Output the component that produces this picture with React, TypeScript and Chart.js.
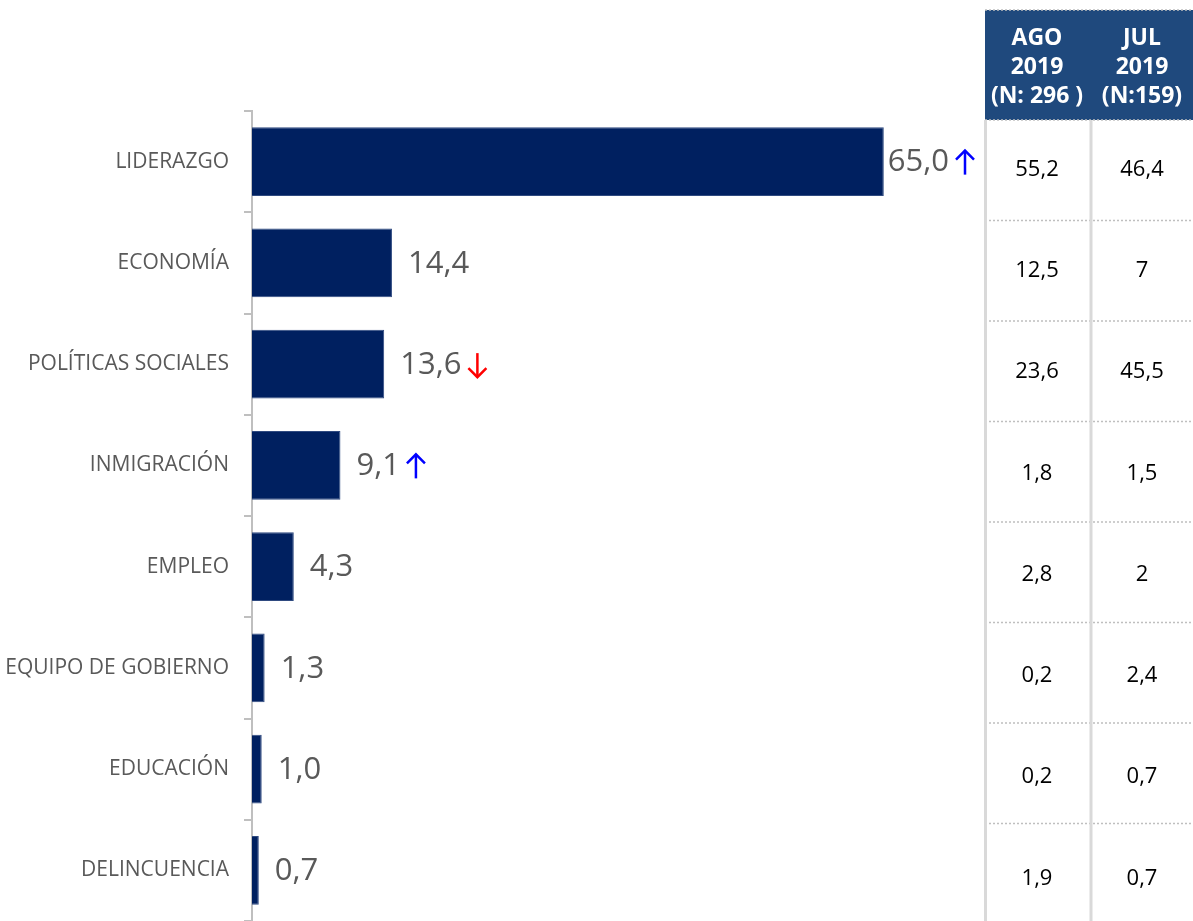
import { useEffect, useRef } from "react";
import { Chart, registerables } from "chart.js";

Chart.register(...registerables);

const categories = [
  "LIDERAZGO",
  "ECONOMÍA",
  "POLÍTICAS SOCIALES",
  "INMIGRACIÓN",
  "EMPLEO",
  "EQUIPO DE GOBIERNO",
  "EDUCACIÓN",
  "DELINCUENCIA",
];
const values = [65.0, 14.4, 13.6, 9.1, 4.3, 1.3, 1.0, 0.7];
const trends: (string | null)[] = ["up", null, "down", "up", null, null, null, null];

const agoHeader = ["AGO", "2019", "(N: 296 )"];
const julHeader = ["JUL", "2019", "(N:159)"];
const agoValues = ["55,2", "12,5", "23,6", "1,8", "2,8", "0,2", "0,2", "1,9"];
const julValues = ["46,4", "7", "45,5", "1,5", "2", "2,4", "0,7", "0,7"];

const fmt = (v: number) => v.toFixed(1).replace(".", ",");

const labelPlugin = {
  id: "labelsAndTable",
  afterDatasetsDraw(chart: any) {
    const ctx = chart.ctx;
    const area = chart.chartArea;
    const meta = chart.getDatasetMeta(0);
    ctx.save();
    ctx.font = "31px 'Open Sans'";
    ctx.textBaseline = "middle";
    ctx.textAlign = "left";
    meta.data.forEach((bar: any, i: number) => {
      const txt = fmt(values[i]);
      const w = ctx.measureText(txt).width;
      const arrowW = trends[i] ? 34 : 0;
      let lx = bar.x + 16;
      const maxX = area.right - w - arrowW;
      if (lx > maxX) lx = Math.max(bar.x + 4, maxX);
      ctx.fillStyle = "#595959";
      ctx.fillText(txt, lx, bar.y + 1);
      if (trends[i]) {
        const cx = lx + w + 16;
        const cy = bar.y + 1;
        const up = trends[i] === "up";
        const h = 12;
        ctx.strokeStyle = up ? "#0000ff" : "#ff0000";
        ctx.lineWidth = 2.5;
        ctx.lineCap = "butt";
        ctx.lineJoin = "miter";
        ctx.beginPath();
        ctx.moveTo(cx, cy - h);
        ctx.lineTo(cx, cy + h);
        ctx.stroke();
        ctx.beginPath();
        if (up) {
          ctx.moveTo(cx - 9, cy - h + 9);
          ctx.lineTo(cx, cy - h);
          ctx.lineTo(cx + 9, cy - h + 9);
        } else {
          ctx.moveTo(cx - 9, cy + h - 9);
          ctx.lineTo(cx, cy + h);
          ctx.lineTo(cx + 9, cy + h - 9);
        }
        ctx.stroke();
      }
    });

    // Table
    const tLeft = 985;
    const tRight = 1193;
    const colX = [1037, 1142];
    const headTop = 10;
    const headBottom = 120;
    const rowH = 100.5;
    ctx.fillStyle = "#1f497d";
    ctx.fillRect(tLeft, headTop, tRight - tLeft, headBottom - headTop);
    ctx.fillStyle = "#ffffff";
    ctx.font = "bold 23px 'Open Sans'";
    ctx.textAlign = "center";
    ctx.textBaseline = "middle";
    const headLinesY = [38, 67, 96];
    agoHeader.forEach((t, k) => ctx.fillText(t, colX[0], headLinesY[k]));
    julHeader.forEach((t, k) => ctx.fillText(t, colX[1], headLinesY[k]));

    // dotted lines
    ctx.strokeStyle = "#bfbfbf";
    ctx.lineWidth = 1.5;
    ctx.setLineDash([2, 2]);
    ctx.beginPath();
    ctx.moveTo(tLeft, headTop);
    ctx.lineTo(tRight, headTop);
    ctx.moveTo(tLeft, headBottom);
    ctx.lineTo(tRight, headBottom);
    for (let r = 1; r < categories.length; r++) {
      const y = headBottom + r * rowH;
      ctx.moveTo(tLeft, y);
      ctx.lineTo(tRight, y);
    }
    ctx.stroke();
    ctx.setLineDash([]);

    // vertical separators
    ctx.strokeStyle = "#d9d9d9";
    ctx.lineWidth = 3;
    ctx.beginPath();
    ctx.moveTo(985.5, headBottom);
    ctx.lineTo(985.5, 921);
    ctx.moveTo(1091, headBottom);
    ctx.lineTo(1091, 921);
    ctx.stroke();

    ctx.fillStyle = "#000000";
    ctx.font = "22px 'Open Sans'";
    const yScale = chart.scales.y;
    for (let r = 0; r < categories.length; r++) {
      const y = yScale.getPixelForValue(r) + 8;
      ctx.fillText(agoValues[r], colX[0], y);
      ctx.fillText(julValues[r], colX[1], y);
    }
    ctx.restore();
  },
};

export default function App() {
  const ref = useRef<HTMLCanvasElement | null>(null);
  useEffect(() => {
    if (!ref.current) return;
    const chart = new Chart(ref.current, {
      type: "bar",
      data: {
        labels: categories,
        datasets: [
          {
            data: values,
            backgroundColor: "#002060",
            borderColor: "#2f4a80",
            borderWidth: 1,
            barPercentage: 0.68,
            categoryPercentage: 1,
          },
        ],
      },
      options: {
        indexAxis: "y",
        responsive: false,
        animation: false,
        devicePixelRatio: 1,
        layout: { padding: { top: 111, right: 212, bottom: 0, left: 0 } },
        plugins: {
          legend: { display: false },
          tooltip: { enabled: false },
        },
        scales: {
          x: {
            display: false,
            min: 0,
            max: 75,
          },
          y: {
            afterFit(scale: any) {
              scale.width = 252;
              scale.paddingTop = 0;
              scale.paddingBottom = 0;
            },
            grid: {
              display: true,
              drawOnChartArea: false,
              drawTicks: true,
              tickLength: 8,
              color: "#bfbfbf",
              lineWidth: 2,
              offset: true,
            },
            border: { display: true, color: "#bfbfbf", width: 2 },
            ticks: {
              padding: 15,
              color: "#595959",
              font: { family: "'Open Sans'", size: 21 },
            },
          },
        },
      },
      plugins: [labelPlugin],
    });
    return () => chart.destroy();
  }, []);
  return (
    <div style={{ position: "absolute", left: 0, top: 0, width: 1193, height: 921, background: "#fff" }}>
      <canvas ref={ref} width={1193} height={921} style={{ display: "block" }} />
    </div>
  );
}
